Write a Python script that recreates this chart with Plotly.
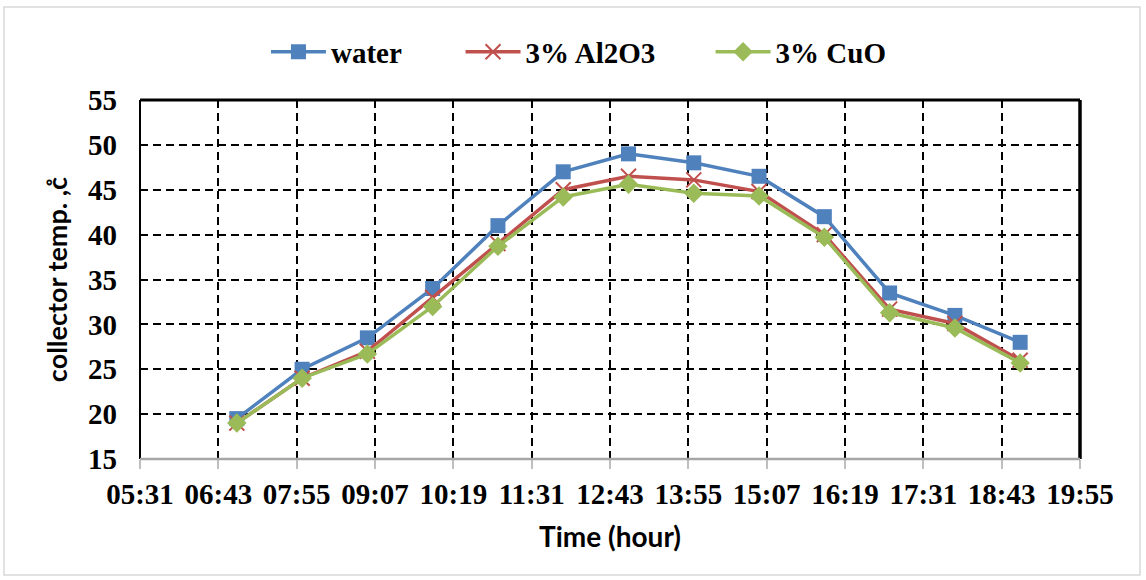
import plotly.graph_objects as go

times = ["07:00", "08:00", "09:00", "10:00", "11:00", "12:00", "13:00",
         "14:00", "15:00", "16:00", "17:00", "18:00", "19:00"]
water = [19.5, 25, 28.5, 34, 41, 47, 49, 48, 46.5, 42, 33.5, 31, 28]
al2o3 = [19, 24, 27, 33, 39, 45, 46.5, 46.1, 44.8, 40, 31.7, 30.1, 26]
cuo = [19, 24, 26.7, 32, 38.7, 44.2, 45.6, 44.6, 44.3, 39.7, 31.3, 29.6, 25.7]
x_ticks = ["05:31", "06:43", "07:55", "09:07", "10:19", "11:31", "12:43",
           "13:55", "15:07", "16:19", "17:31", "18:43", "19:55"]
y_ticks = [15, 20, 25, 30, 35, 40, 45, 50, 55]


def to_min(s):
    h, m = s.split(":")
    return int(h) * 60 + int(m)


xm = [to_min(t) for t in times]
xt = [to_min(t) for t in x_ticks]

fig = go.Figure()
fig.add_trace(go.Scatter(x=xm, y=water, name="water", mode="lines+markers",
                         legend="legend",
                         line=dict(color="#4F81BD", width=3.5),
                         marker=dict(symbol="square", size=15, color="#4F81BD")))
fig.add_trace(go.Scatter(x=xm, y=al2o3, name="3% Al2O3", mode="lines+markers",
                         legend="legend2",
                         line=dict(color="#C0504D", width=3.5),
                         marker=dict(symbol="x-thin", size=15,
                                     line=dict(color="#C0504D", width=2))))
fig.add_trace(go.Scatter(x=xm, y=cuo, name="3% CuO", mode="lines+markers",
                         legend="legend3",
                         line=dict(color="#9BBB59", width=3.5),
                         marker=dict(symbol="diamond", size=15, color="#9BBB59")))

tick_font = dict(family="Liberation Serif", size=29, color="black", weight="bold")
leg_font = dict(family="Liberation Serif", size=29, color="black", weight="bold")
title_font = dict(family="Lato", size=27, color="black", weight="bold")


def leg(xpos):
    return dict(orientation="h", x=xpos, xanchor="left", y=1.134, yanchor="middle",
                font=leg_font, bgcolor="rgba(0,0,0,0)", itemwidth=55)


fig.update_layout(
    width=1146, height=580,
    margin=dict(l=140, r=66, t=100, b=121),
    paper_bgcolor="white", plot_bgcolor="white",
    showlegend=True,
    legend=leg(0.134),
    legend2=leg(0.341),
    legend3=leg(0.607),
    xaxis=dict(range=[xt[0], xt[-1]], tickmode="array", tickvals=xt, ticktext=x_ticks,
               tickfont=tick_font, showgrid=True, gridcolor="black", griddash="8px,5px",
               gridwidth=1.8, ticks="outside", ticklen=9, tickcolor="#BFBFBF",
               tickwidth=2, zeroline=False, showline=False,
               title=dict(text="Time (hour)", standoff=18,
                          font=dict(family="Lato", size=28, color="black",
                                    weight="bold"))),
    yaxis=dict(range=[15, 55], tickmode="array", tickvals=y_ticks,
               tickfont=tick_font, showgrid=True, gridcolor="black", griddash="8px,5px",
               gridwidth=1.8, zeroline=False, showline=False, ticks="",
               ticklabelstandoff=22,
               title=dict(text="collector temp. ,c\u030a", standoff=12, font=title_font)),
    shapes=[
        dict(type="rect", xref="paper", yref="paper", x0=-0.1447, x1=1.0638,
             y0=-0.323, y1=1.259, line=dict(color="#D9D9D9", width=1.5),
             layer="below"),
        dict(type="line", xref="paper", yref="paper", x0=0, x1=1, y0=1, y1=1,
             line=dict(color="black", width=3)),
        dict(type="line", xref="paper", yref="paper", x0=1, x1=1, y0=0, y1=1,
             line=dict(color="black", width=3.5)),
        dict(type="line", xref="paper", yref="paper", x0=0, x1=0, y0=0, y1=1,
             line=dict(color="black", width=2)),
        dict(type="line", xref="paper", yref="paper", x0=0, x1=1, y0=0, y1=0,
             line=dict(color="#A6A6A6", width=2.5)),
    ],
)

fig.write_html("out.html", config={"displayModeBar": False},
               post_script="document.body.style.margin='0';")
